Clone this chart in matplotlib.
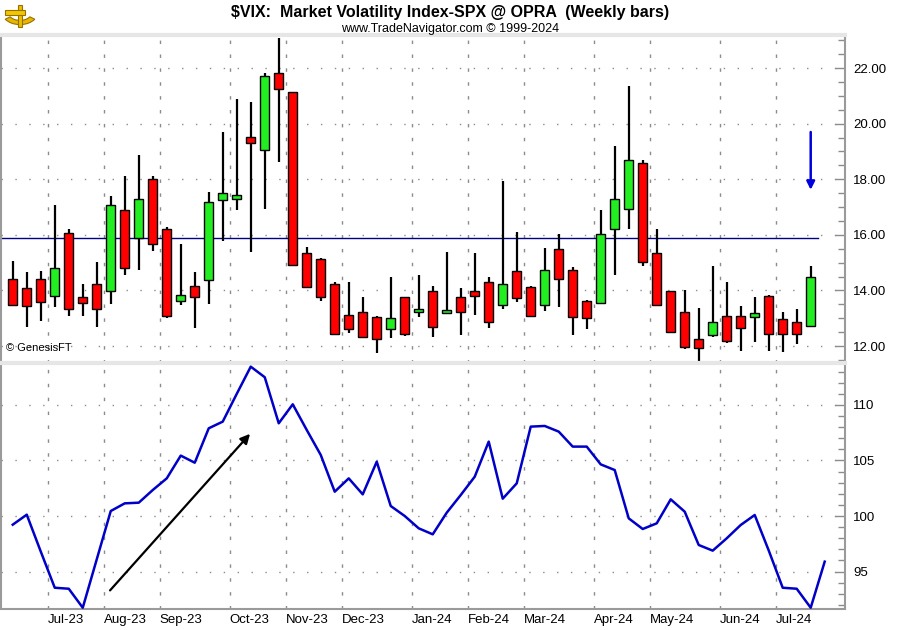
import numpy as np
import pandas as pd
import matplotlib
matplotlib.use('Agg')
import matplotlib.pyplot as plt
from matplotlib.patches import Rectangle, Wedge

plt.rcParams['font.family'] = ['Liberation Sans', 'DejaVu Sans']

# weekly $VIX candles
opens = [14.40, 14.08, 14.40, 13.81, 16.05, 13.75, 14.25, 13.97, 16.88, 15.87,
         18.00, 16.22, 13.61, 14.15, 14.36, 17.24, 17.28, 19.51, 19.07, 21.81,
         21.13, 15.36, 15.12, 14.22, 13.10, 13.23, 13.03, 12.60, 13.75, 13.21,
         13.97, 13.20, 13.75, 13.97, 14.31, 13.46, 14.69, 14.13, 13.46, 15.48,
         14.73, 13.63, 13.56, 16.22, 16.92, 18.57, 15.33, 13.97, 13.23, 12.24,
         12.38, 13.08, 13.08, 13.03, 13.81, 12.96, 12.87, 12.73]
highs = [15.06, 14.65, 14.70, 17.07, 16.20, 14.23, 15.01, 17.40, 18.12, 18.87,
         18.12, 16.27, 15.67, 14.65, 17.53, 19.69, 20.88, 20.78, 21.81, 23.10,
         21.15, 15.55, 15.15, 14.29, 14.29, 13.75, 13.09, 14.47, 13.77, 14.54,
         14.16, 15.37, 14.08, 15.33, 14.49, 17.94, 16.10, 14.16, 15.51, 16.03,
         14.83, 13.65, 16.89, 19.19, 21.35, 18.68, 16.20, 13.99, 14.00, 13.36,
         14.88, 14.29, 13.44, 13.75, 13.83, 13.23, 13.32, 14.88]
lows = [13.45, 12.70, 12.91, 13.41, 13.09, 13.09, 12.70, 13.51, 14.55, 14.73,
        15.43, 13.00, 13.47, 12.64, 13.51, 15.79, 16.89, 15.39, 16.94, 18.63,
        14.88, 14.10, 13.63, 12.40, 12.46, 12.30, 11.76, 12.28, 12.36, 13.05,
        12.31, 13.18, 12.38, 13.12, 12.66, 13.32, 13.59, 13.06, 13.27, 13.40,
        12.38, 12.62, 13.54, 14.55, 16.22, 14.89, 13.44, 12.46, 11.88, 11.47,
        12.33, 12.10, 11.83, 12.16, 11.83, 11.78, 12.07, 12.71]
closes = [13.47, 13.43, 13.57, 14.79, 13.32, 13.56, 13.32, 17.06, 14.82, 17.28,
          15.66, 13.07, 13.82, 13.75, 17.17, 17.49, 17.43, 19.29, 21.71, 21.23,
          14.90, 14.13, 13.77, 12.42, 12.60, 12.31, 12.24, 13.00, 12.42, 13.32,
          12.67, 13.29, 13.23, 13.81, 12.87, 14.22, 13.72, 13.08, 14.72, 14.40,
          13.03, 13.00, 16.02, 17.28, 18.68, 15.01, 13.46, 12.51, 11.95, 11.92,
          12.87, 12.19, 12.64, 13.18, 12.42, 12.43, 12.42, 14.47]

# lower pane indicator (one point more than the candles)
indicator = [99.22, 100.12, 96.8, 93.54, 93.45, 91.74, 96.1, 100.45, 101.14, 101.2,
             102.34, 103.39, 105.44, 104.8, 107.9, 108.5, 111.0, 113.45, 112.5, 108.35,
             110.06, 107.75, 105.5, 102.19, 103.39, 101.95, 104.89, 100.9, 100.0, 98.89,
             98.35, 100.3, 101.89, 103.54, 106.7, 101.56, 102.94, 108.05, 108.11, 107.6,
             106.25, 106.25, 104.65, 104.14, 99.79, 98.83, 99.34, 101.5, 100.39, 97.39,
             96.88, 97.99, 99.19, 100.09, 96.9, 93.54, 93.45, 91.74, 95.89]

ref_level = 15.9
first_week = '2023-06-16'

weeks = pd.date_range(first_week, periods=len(indicator), freq='W-FRI')
month_pos = []
month_lab = []
for i in range(1, len(weeks)):
    if weeks[i].month != weeks[i - 1].month:
        month_pos.append(i - 0.5)
        month_lab.append(weeks[i].strftime('%b-%y'))

W, H = 900, 630
fig = plt.figure(figsize=(9, 6.3), dpi=100)
fig.patch.set_facecolor('white')

ax1 = fig.add_axes([1 / W, 1 - 363 / H, 844 / W, 328 / H])
ax2 = fig.add_axes([1 / W, 1 - 608.5 / H, 844 / W, 245.5 / H])
xlim = (-0.84, 59.45)

grid_col = '#8c8c8c'
for ax in (ax1, ax2):
    ax.set_xlim(*xlim)
    ax.yaxis.tick_right()
    ax.tick_params(axis='y', which='both', direction='in', colors='#8c8c8c',
                   labelcolor='black', labelsize=9.5, pad=6)
    ax.tick_params(axis='y', which='major', length=7, width=1)
    ax.tick_params(axis='y', which='minor', length=5, width=1)
    for p in month_pos:
        ax.axvline(p, color=grid_col, lw=1, linestyle=(0, (2.5, 7.5)), zorder=0)
    for s in ('left', 'right', 'bottom'):
        ax.spines[s].set_color('#9a9a9a')
        ax.spines[s].set_linewidth(1.5)
    ax.spines['top'].set_color('#e6e6e6')
    ax.spines['top'].set_linewidth(3)

# upper pane - candles
ax1.set_ylim(11.39, 23.19)
ax1.set_yticks([12, 14, 16, 18, 20, 22])
ax1.set_yticklabels(['%.2f' % v for v in [12, 14, 16, 18, 20, 22]])
ax1.set_yticks(np.arange(11.5, 23.2, 0.5), minor=True)
ax1.set_xticks([])
ax1.spines['bottom'].set_color('#e6e6e6')
ax1.spines['bottom'].set_linewidth(2)
for v in [12, 14, 16, 18, 20, 22]:
    ax1.axhline(v, color=grid_col, lw=1, linestyle=(0, (1, 9)), zorder=0)

bw = 0.64
for i in range(len(opens)):
    o, h, l, c = opens[i], highs[i], lows[i], closes[i]
    col = '#22ee22' if c > o else '#ff0000'
    ax1.plot([i, i], [l, h], color='black', lw=1.6, zorder=2, solid_capstyle='butt')
    ax1.add_patch(Rectangle((i - bw / 2, min(o, c)), bw, max(abs(c - o), 0.03),
                            facecolor=col, edgecolor='black', lw=1.0, zorder=3))

ax1.plot([xlim[0], 57.5], [ref_level, ref_level], color='#000080', lw=1, zorder=1)
ax1.annotate('', xy=(57, 17.62), xytext=(57, 19.7),
             arrowprops=dict(arrowstyle='-|>', color='#0000dd', lw=1.8,
                             mutation_scale=12, shrinkA=0, shrinkB=0))
ax1.text(0.006, 0.03, '© GenesisFT', transform=ax1.transAxes, fontsize=8,
         ha='left', va='bottom')

# lower pane - indicator line
ax2.set_ylim(91.67, 113.78)
ax2.set_yticks([95, 100, 105, 110])
ax2.set_yticks(np.arange(92, 114, 1), minor=True)
for v in [95, 100, 105, 110]:
    ax2.axhline(v, color=grid_col, lw=1, linestyle=(0, (1, 9)), zorder=0)
ax2.plot(range(len(indicator)), indicator, color='#0000c8', lw=1.8, zorder=3)
ax2.annotate('', xy=(16.95, 107.4), xytext=(6.95, 93.3),
             arrowprops=dict(arrowstyle='-|>', color='black', lw=1.6,
                             mutation_scale=14, shrinkA=0, shrinkB=0))

ax2.set_xticks(month_pos)
ax2.set_xticklabels(month_lab, ha='left')
ax2.tick_params(axis='x', length=0, labelsize=9.5, pad=4)

# small gold sextant-like logo in the corner
fig.patches.append(Wedge((20 / W, 1 - 12 / H), 18 / W, 215, 325, width=6 / W,
                         transform=fig.transFigure, facecolor='#e6b800',
                         edgecolor='#9a7000', lw=0.8))
fig.patches.append(Rectangle((18 / W, 1 - 27 / H), 4 / W, 22 / H,
                             transform=fig.transFigure, facecolor='#e8c000',
                             edgecolor='#9a7000', lw=0.8))
fig.patches.append(Rectangle((5 / W, 1 - 15 / H), 20 / W, 5 / H,
                             transform=fig.transFigure, facecolor='#f0c800',
                             edgecolor='#9a7000', lw=0.8))

fig.text(0.5, 1 - 12 / H, '$VIX:  Market Volatility Index-SPX @ OPRA  (Weekly bars)',
         ha='center', va='center', fontsize=11.5, fontweight='bold')
fig.text(0.5, 1 - 29 / H, 'www.TradeNavigator.com © 1999-2024',
         ha='center', va='center', fontsize=9)

fig.savefig('out.png', dpi=100)
